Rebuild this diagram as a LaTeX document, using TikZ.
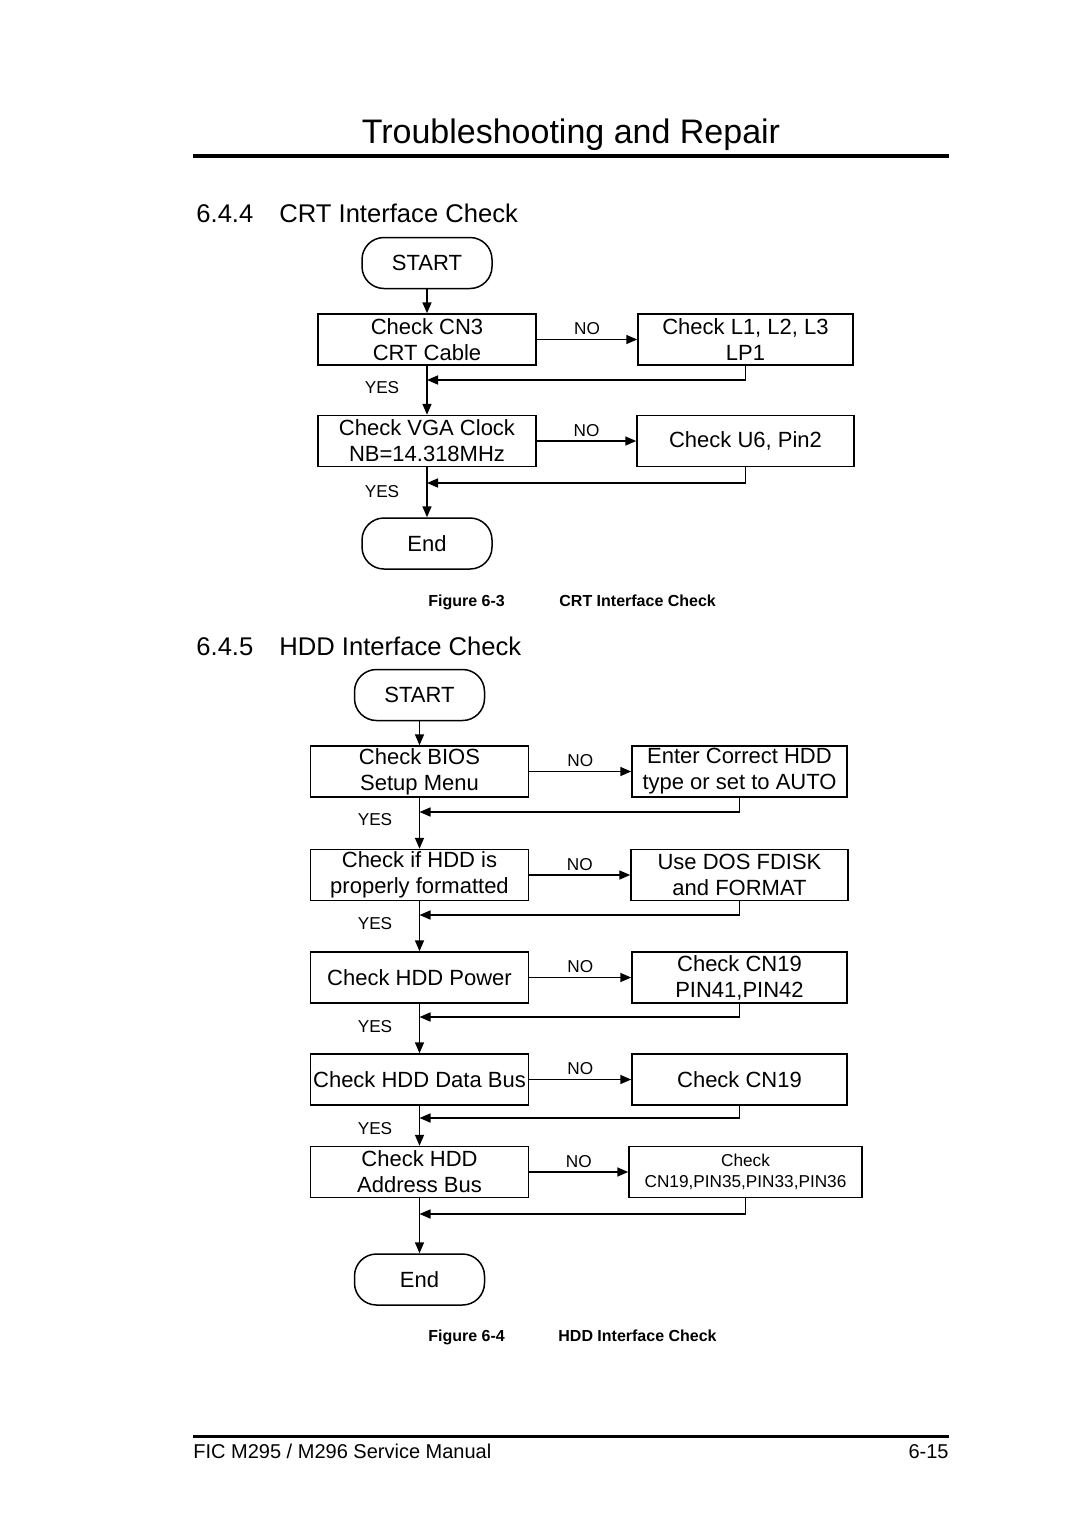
\documentclass[tikz,border=0pt]{standalone}
\usepackage{fontspec}
\setmainfont{Liberation Sans}
\usetikzlibrary{arrows.meta}
\tikzset{
proc/.style={ % process boxes
draw, line width=0.75pt,
minimum width=109pt, minimum height=25.5pt,
inner sep=0pt, align=center,
font=\fontsize{11}{13}\selectfont},
term/.style={ % START / End
draw, line width=0.75pt, rounded corners=11pt,
minimum width=65pt, minimum height=25.5pt,
font=\fontsize{11}{13}\selectfont},
arr/.style={ % flow lines
draw, line width=0.8pt,
-{Triangle[length=5.5pt,width=4.5pt]}},
lbl/.style={font=\fontsize{8.6}{10}\selectfont, inner sep=1pt},
head/.style={anchor=base west, inner sep=0pt, font=\fontsize{12.8}{14}\selectfont},
capt/.style={anchor=base west, inner sep=0pt, font=\fontsize{8}{10}\selectfont\bfseries}}

\begin{document}
\begin{tikzpicture}[x=0.5pt,y=-0.5pt]
\useasboundingbox (0,0) rectangle (1080,1527);
% page header
\node[anchor=base, inner sep=0pt, font=\fontsize{17}{20}\selectfont] (title) at (571,143) {Troubleshooting and Repair};
\draw[line width=2pt] (193,156) -- (949,156);
\node[head] (sec1) at (196,222) {6.4.4};
\node[head] (sec1t) at (279,222) {CRT Interface Check};

% CRT flow
\node[term] (start1) at (427,263) {START};
\node[proc] (cn3) at (427,339.5) {Check CN3\\CRT Cable};
\node[proc, minimum width=107.5pt] (lp1) at (745.5,339.5) {Check L1, L2, L3\\LP1};
\node[proc] (vga) at (427,441) {Check VGA Clock\\NB=14.318MHz};
\node[proc, minimum width=108.5pt] (u6) at (745.5,441) {Check U6, Pin2};
\node[term] (end1) at (427,543.5) {End};
\coordinate (j1) at (427,380);
\coordinate (j2) at (427,483);
\node[lbl] (yes1) at (382,388) {YES};
\node[lbl] (yes2) at (382,492) {YES};
\draw[arr] (start1) -- (cn3);
\draw[arr] (cn3) -- node[lbl, above, yshift=1pt] {NO} (lp1);
\draw[arr] (lp1.south) |- (j1);
\draw[arr] (cn3) -- (vga);
\draw[arr] (vga) -- node[lbl, above, yshift=1pt] {NO} (u6);
\draw[arr] (u6.south) |- (j2);
\draw[arr] (vga) -- (end1);
\node[capt] (fig3) at (428,606) {Figure 6-3};
\node[capt] (fig3t) at (559,606) {CRT Interface Check};

% HDD flow
\node[head] (sec2) at (196,655) {6.4.5};
\node[head] (sec2t) at (279,655) {HDD Interface Check};
\node[term] (start2) at (419.5,695) {START};
\node[proc] (bios) at (419.5,771.5) {Check BIOS\\Setup Menu};
\node[proc, minimum width=107.5pt] (auto) at (739.5,771.5) {Enter Correct HDD\\type or set to AUTO};
\node[proc] (fmt) at (419.5,875) {Check if HDD is\\properly formatted};
\node[proc, minimum width=108.5pt] (fdisk) at (739.5,875) {Use DOS FDISK\\and FORMAT};
\node[proc] (pwr) at (419.5,977.5) {Check HDD Power};
\node[proc, minimum width=107.5pt] (pin41) at (739.5,977.5) {Check CN19\\PIN41,PIN42};
\node[proc] (data) at (419.5,1079.5) {Check HDD Data Bus};
\node[proc, minimum width=107.5pt] (cn19) at (739.5,1079.5) {Check CN19};
\node[proc] (addr) at (419.5,1172) {Check HDD\\Address Bus};
\node[proc, minimum width=116.5pt, font=\fontsize{8.6}{10.5}\selectfont] (pin35) at (745.5,1172) {Check\\CN19,PIN35,PIN33,PIN36};
\node[term] (end2) at (419.5,1279.5) {End};
\coordinate (k1) at (419.5,812);
\coordinate (k2) at (419.5,915);
\coordinate (k3) at (419.5,1017);
\coordinate (k4) at (419.5,1118);
\coordinate (k5) at (419.5,1214);
\node[lbl] (yes3) at (375,820) {YES};
\node[lbl] (yes4) at (375,924) {YES};
\node[lbl] (yes5) at (375,1027) {YES};
\node[lbl] (yes6) at (375,1129) {YES};
\draw[arr] (start2) -- (bios);
\draw[arr] (bios) -- node[lbl, above, yshift=1pt] {NO} (auto);
\draw[arr] (auto.south) |- (k1);
\draw[arr] (bios) -- (fmt);
\draw[arr] (fmt) -- node[lbl, above, yshift=1pt] {NO} (fdisk);
\draw[arr] (fdisk.south) |- (k2);
\draw[arr] (fmt) -- (pwr);
\draw[arr] (pwr) -- node[lbl, above, yshift=1pt] {NO} (pin41);
\draw[arr] (pin41.south) |- (k3);
\draw[arr] (pwr) -- (data);
\draw[arr] (data) -- node[lbl, above, yshift=1pt] {NO} (cn19);
\draw[arr] (cn19.south) |- (k4);
\draw[arr] (data) -- (addr);
\draw[arr] (addr) -- node[lbl, above, yshift=1pt] {NO} (pin35);
\draw[arr] (pin35.south) |- (k5);
\draw[arr] (addr) -- (end2);
\node[capt] (fig4) at (428,1341) {Figure 6-4};
\node[capt] (fig4t) at (558,1341) {HDD Interface Check};

% page footer
\draw[line width=1.5pt] (193,1436) -- (949,1436);
\node[anchor=base west, inner sep=0pt, font=\fontsize{10}{12}\selectfont] (foot) at (193,1458) {FIC M295 / M296 Service Manual};
\node[anchor=base east, inner sep=0pt, font=\fontsize{10}{12}\selectfont] (page) at (949,1458) {6-15};
\end{tikzpicture}
\end{document}
